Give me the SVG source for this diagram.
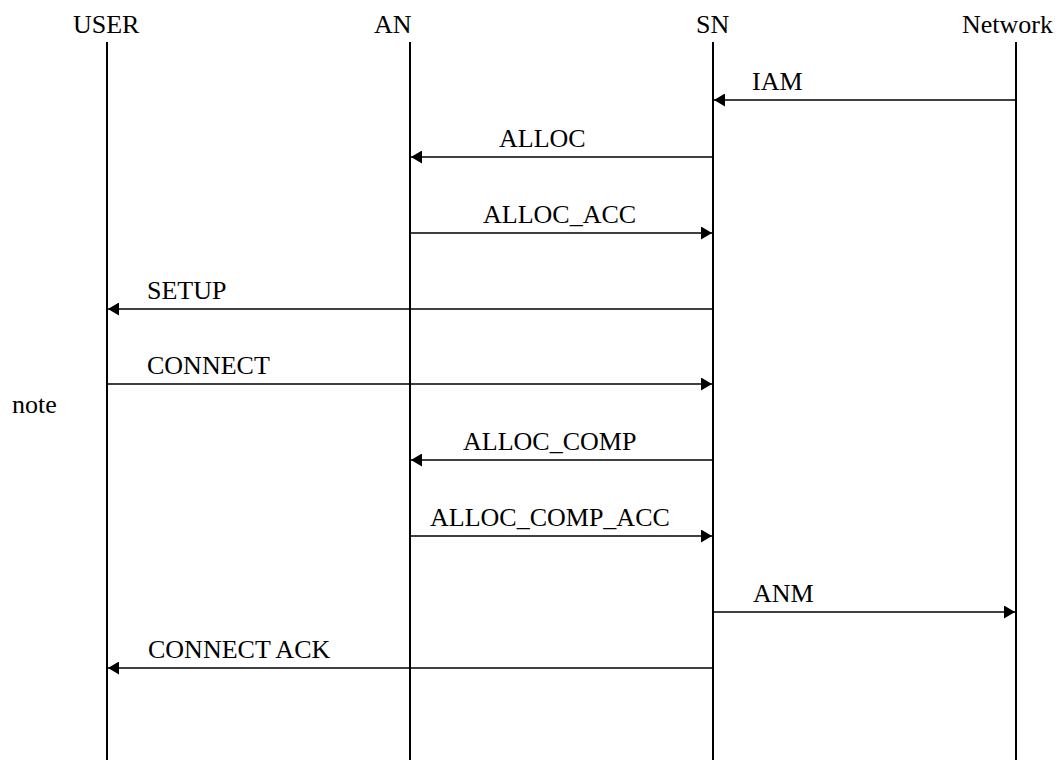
<svg xmlns="http://www.w3.org/2000/svg" width="1058" height="760" viewBox="0 0 1058 760">
<style>
.t{font-family:'Liberation Serif','Times New Roman',Times,'DejaVu Serif',serif;font-size:26px;fill:#000}
.life{stroke:#000;stroke-width:2;fill:none}
.msg{stroke:#000;stroke-width:1.5;fill:none}
</style>
<defs>
<marker id="ah" markerWidth="11" markerHeight="13" refX="11" refY="6.5" orient="auto" markerUnits="userSpaceOnUse">
<path d="M0,0 L11,6.5 L0,13 Z" fill="#000"/>
</marker>
</defs>
<rect width="1058" height="760" fill="#fff"/>
<g font-family="Liberation Serif, Times New Roman, serif" font-size="26">
<g id="USER"><text class="t" x="73" y="33">USER</text><line class="life" x1="107" y1="42" x2="107" y2="760"/></g>
<g id="AN"><text class="t" x="374" y="33">AN</text><line class="life" x1="410" y1="42" x2="410" y2="760"/></g>
<g id="SN"><text class="t" x="696" y="33">SN</text><line class="life" x1="713" y1="42" x2="713" y2="760"/></g>
<g id="Network"><text class="t" x="962" y="33">Network</text><line class="life" x1="1016" y1="42" x2="1016" y2="760"/></g>
<g id="note"><text class="t" x="12" y="413">note</text></g>
<g id="connectors">
<line class="msg" x1="1016" y1="100" x2="714" y2="100" marker-end="url(#ah)"/>
<text class="t" x="752" y="90">IAM</text>
<line class="msg" x1="713" y1="157" x2="411" y2="157" marker-end="url(#ah)"/>
<text class="t" x="499" y="147">ALLOC</text>
<line class="msg" x1="410" y1="233" x2="712" y2="233" marker-end="url(#ah)"/>
<text class="t" x="483" y="223">ALLOC_ACC</text>
<line class="msg" x1="713" y1="309" x2="108" y2="309" marker-end="url(#ah)"/>
<text class="t" x="147" y="299">SETUP</text>
<line class="msg" x1="107" y1="384" x2="712" y2="384" marker-end="url(#ah)"/>
<text class="t" x="147" y="374">CONNECT</text>
<line class="msg" x1="713" y1="460" x2="411" y2="460" marker-end="url(#ah)"/>
<text class="t" x="463" y="450">ALLOC_COMP</text>
<line class="msg" x1="410" y1="536" x2="712" y2="536" marker-end="url(#ah)"/>
<text class="t" x="430" y="526">ALLOC_COMP_ACC</text>
<line class="msg" x1="713" y1="612" x2="1015" y2="612" marker-end="url(#ah)"/>
<text class="t" x="753" y="602">ANM</text>
<line class="msg" x1="713" y1="668" x2="108" y2="668" marker-end="url(#ah)"/>
<text class="t" x="148" y="658">CONNECT ACK</text>
</g>
</g>
</svg>
